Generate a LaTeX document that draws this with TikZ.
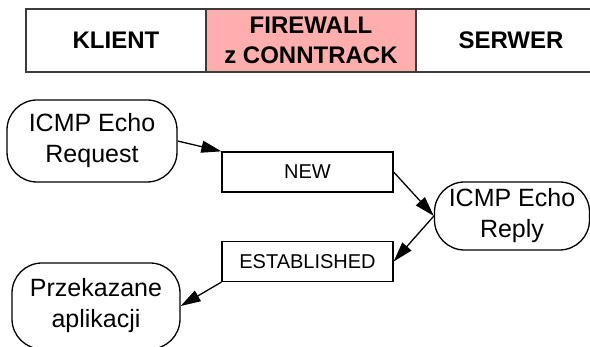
\documentclass[tikz,border=0pt]{standalone}
\usepackage{fontspec}
\setmainfont{Liberation Sans}
\usetikzlibrary{arrows.meta}
\definecolor{rozowy}{RGB}{255,174,174}
\definecolor{ramka}{RGB}{60,60,60}
\tikzset{
  naglowek/.style={draw=ramka,line width=2pt,minimum height=63pt,inner sep=0pt,align=center,font=\fontsize{24}{30}\selectfont\bfseries},
  zdarzenie/.style={draw,line width=1.3pt,rounded corners=30pt,inner sep=0pt,align=center,font=\fontsize{25}{31}\selectfont},
  stan/.style={draw,line width=1.3pt,minimum width=171pt,minimum height=40pt,inner sep=0pt,font=\fontsize{20}{24}\selectfont},
  strzalka/.style={-{Triangle[length=20pt,width=12pt]},line width=1.3pt}
}
\begin{document}
\begin{tikzpicture}[x=1pt,y=-1pt]
    \useasboundingbox (0,0) rectangle (590,347);
    \clip (0,0) rectangle (590,347);

    % Pasek naglowka
    \node[naglowek,minimum width=180pt] (klient) at (116,40.5) {KLIENT};
    \node[naglowek,minimum width=210pt,fill=rozowy] (firewall) at (311,40.5) {FIREWALL\\z CONNTRACK};
    \node[naglowek,minimum width=190pt] (serwer) at (511,40.5) {SERWER};

    % Pakiety i stany
    \node[zdarzenie,minimum width=170pt,minimum height=82pt] (zadanie) at (92,141) {ICMP Echo\\Request};
    \node[stan] (nowy) at (307.5,172) {NEW};
    \node[zdarzenie,minimum width=155pt,minimum height=68pt] (odpowiedz) at (512,216) {ICMP Echo\\Reply};
    \node[stan] (ustalony) at (307.5,261.5) {ESTABLISHED};
    \node[zdarzenie,minimum width=168pt,minimum height=86pt] (aplikacja) at (96,306) {Przekazane\\aplikacji};

    % Strzalki
    \draw[strzalka] (zadanie.east) -- (nowy.north west);
    \draw[strzalka] (nowy.east) -- (odpowiedz.west);
    \draw[strzalka] (odpowiedz.west) -- (ustalony.east);
    \draw[strzalka] (ustalony.south west) -- (aplikacja.east);
\end{tikzpicture}
\end{document}
